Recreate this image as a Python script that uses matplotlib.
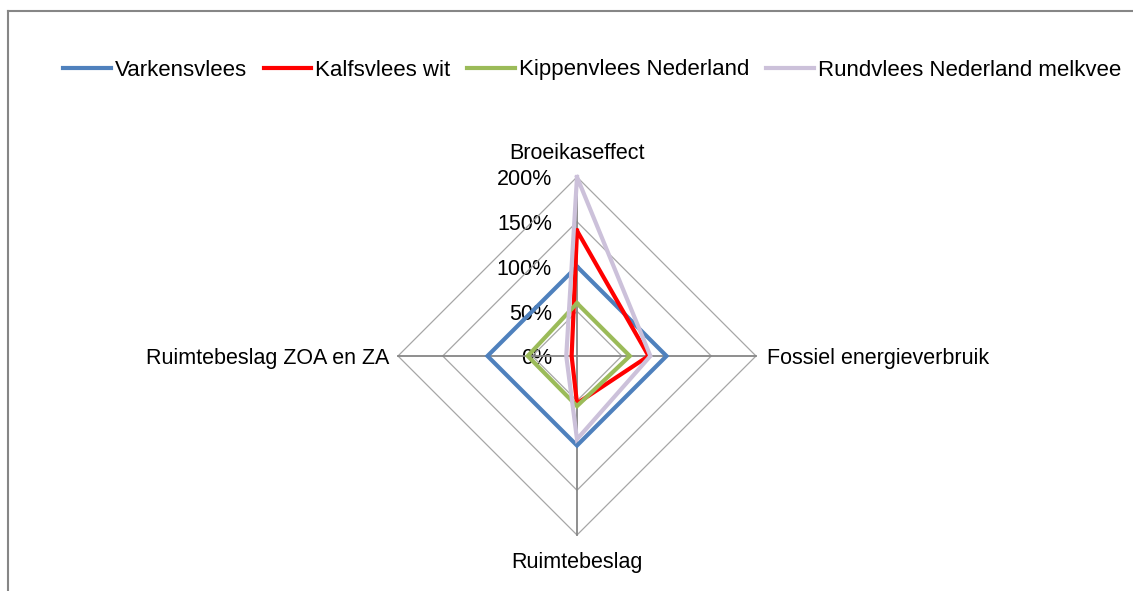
import numpy as np
import matplotlib
matplotlib.use("Agg")
import matplotlib.pyplot as plt
from matplotlib.lines import Line2D
from matplotlib.transforms import offset_copy
from matplotlib import font_manager

categories = ["Broeikaseffect", "Fossiel energieverbruik", "Ruimtebeslag", "Ruimtebeslag ZOA en ZA"]
series_names = ["Varkensvlees", "Kalfsvlees wit", "Kippenvlees Nederland", "Rundvlees Nederland melkvee"]
varkensvlees = [1.00, 1.00, 1.00, 1.00]
kalfsvlees = [1.40, 0.80, 0.53, 0.06]
kippenvlees = [0.59, 0.59, 0.56, 0.55]
rundvlees = [2.00, 0.82, 0.93, 0.12]
tick_values = [0.0, 0.5, 1.0, 1.5, 2.0]
tick_labels = ["0%", "50%", "100%", "150%", "200%"]
colors = ["#4F81BD", "#FF0000", "#9BBB59", "#CCC1DA"]

names = {f.name for f in font_manager.fontManager.ttflist}
main_font = "Liberation Sans" if "Liberation Sans" in names else "DejaVu Sans"

W, H = 1133, 591
fig = plt.figure(figsize=(W / 100, H / 100), dpi=100)
fig.patch.set_facecolor("white")

cx, cy, R = 577, 356, 179
ax = fig.add_axes([(cx - R) / W, (H - cy - R) / H, 2 * R / W, 2 * R / H], projection="polar")
ax.set_theta_zero_location("N")
ax.set_theta_direction(-1)
ax.set_ylim(0, 2.0)
ax.grid(False)
ax.spines["polar"].set_visible(False)
ax.set_xticks([])
ax.set_yticks([])
ax.patch.set_alpha(0)

n = len(categories)
theta = np.arange(n) * 2 * np.pi / n
theta_closed = np.append(theta, theta[0])

# polygon grid
for tv in tick_values[1:]:
    ax.plot(theta_closed, [tv] * (n + 1), color="#A6A6A6", lw=0.9, zorder=1, clip_on=False)
# spokes
for t in theta:
    ax.plot([t, t], [0, tick_values[-1]], color="#868686", lw=1.3, zorder=1.5, clip_on=False)

# tick labels
for tv, tl in zip(tick_values, tick_labels):
    tr = offset_copy(ax.transData, fig=fig, x=-18, y=-2, units="points")
    ax.text(0, tv, tl, transform=tr, ha="right", va="center",
            fontsize=15.5, family=main_font, color="black", zorder=0.5)

# series
for vals, col, name in zip([varkensvlees, kalfsvlees, kippenvlees, rundvlees], colors, series_names):
    ax.plot(theta_closed, list(vals) + [vals[0]], color=col, lw=3.0, label=name,
            zorder=3, clip_on=False, solid_joinstyle="miter")

# category labels
lab_kw = dict(fontsize=15.5, family=main_font, color="black")
ax.text(0, 2.0, categories[0], transform=offset_copy(ax.transData, fig=fig, x=0, y=17, units="points"),
        ha="center", va="center", **lab_kw)
ax.text(theta[1], 2.0, categories[1], transform=offset_copy(ax.transData, fig=fig, x=8, y=-1.5, units="points"),
        ha="left", va="center", **lab_kw)
ax.text(theta[2], 2.0, categories[2], transform=offset_copy(ax.transData, fig=fig, x=0, y=-19.5, units="points"),
        ha="center", va="center", **lab_kw)
ax.text(theta[3], 2.0, categories[3], transform=offset_copy(ax.transData, fig=fig, x=-6, y=-1.5, units="points"),
        ha="right", va="center", **lab_kw)

handles = [Line2D([], [], color=c, lw=3.0) for c in colors]
fig.legend(handles, series_names, loc="center", bbox_to_anchor=(592 / W, 1 - 70 / H), ncol=4,
           frameon=False, prop={"family": main_font, "size": 16}, handlelength=2.15,
           handletextpad=0.18, columnspacing=0.75, borderaxespad=0, borderpad=0)

# outer frame (partial, as cropped)
fig.add_artist(Line2D([8 / W, 1], [1 - 11 / H, 1 - 11 / H], transform=fig.transFigure, color="#868686", lw=1.5))
fig.add_artist(Line2D([8 / W, 8 / W], [0, 1 - 11 / H], transform=fig.transFigure, color="#868686", lw=1.5))

fig.savefig("out.png", dpi=100, facecolor="white")
